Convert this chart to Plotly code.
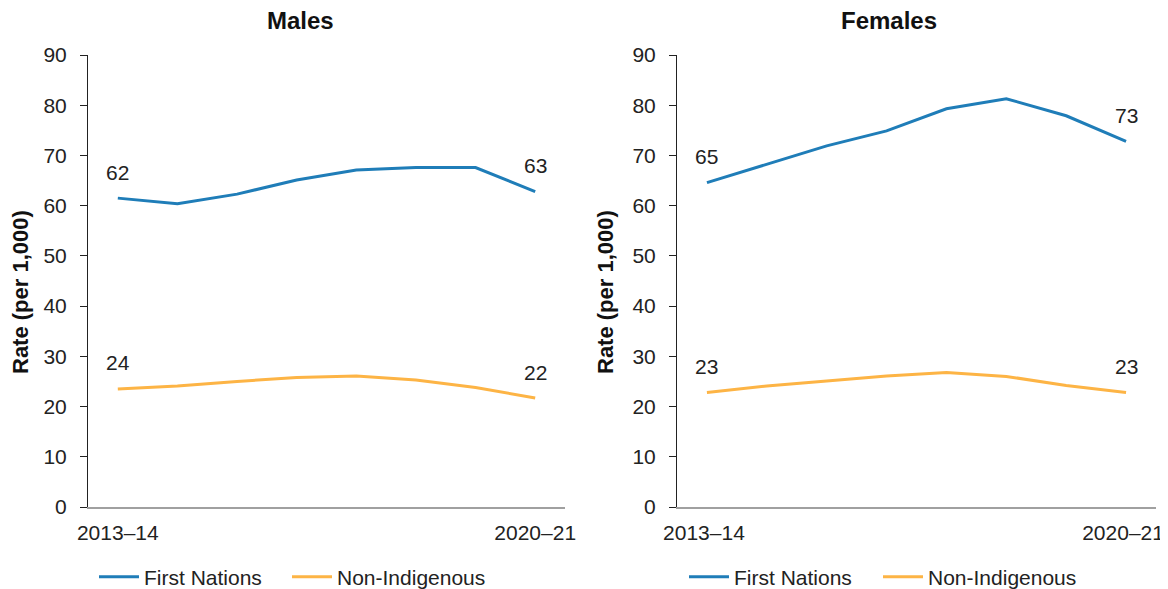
import plotly.graph_objects as go

categories = ["2013–14", "2014–15", "2015–16", "2016–17", "2017–18", "2018–19", "2019–20", "2020–21"]
males_first_nations = [61.5, 60.4, 62.3, 65.1, 67.1, 67.6, 67.6, 62.8]
males_non_indigenous = [23.5, 24.1, 25.0, 25.8, 26.1, 25.3, 23.8, 21.7]
females_first_nations = [64.6, 68.2, 71.9, 74.9, 79.3, 81.3, 77.9, 72.8]
females_non_indigenous = [22.8, 24.1, 25.1, 26.1, 26.8, 26.0, 24.2, 22.8]
label_first_nations = ["62", "63"]
label_non_indigenous_m = ["24", "22"]
label_females_fn = ["65", "73"]
label_females_ni = ["23", "23"]

BLUE = "#1F7DB8"
ORANGE = "#FDB445"
FONT = "Arial, Liberation Sans, sans-serif"
TXT = "#222222"
OFF = 8  # page body margin
W, H = 1168 - OFF, 589 - OFF

def fx(px):
    return (px - OFF) / W

def fy(py):
    return 1 - (py - OFF) / H

fig = go.Figure()

def add_panel(fn, ni, xa, ya, leg_fn, leg_ni):
    fig.add_trace(go.Scatter(x=categories, y=fn, mode="lines", name="First Nations",
                             line=dict(color=BLUE, width=3), xaxis=xa, yaxis=ya,
                             legend=leg_fn, hoverinfo="skip"))
    fig.add_trace(go.Scatter(x=categories, y=ni, mode="lines", name="Non-Indigenous",
                             line=dict(color=ORANGE, width=3), xaxis=xa, yaxis=ya,
                             legend=leg_ni, hoverinfo="skip"))

add_panel(males_first_nations, males_non_indigenous, "x", "y", "legend", "legend2")
add_panel(females_first_nations, females_non_indigenous, "x2", "y2", "legend3", "legend4")

annotations = []
def add_labels(series, labels, xa, ya):
    for idx, lab in zip([0, len(categories) - 1], labels):
        annotations.append(dict(x=categories[idx], y=series[idx], xref=xa, yref=ya,
                                text=lab, showarrow=False, yshift=26,
                                xanchor="center", yanchor="middle",
                                font=dict(family=FONT, size=21, color=TXT)))

add_labels(males_first_nations, label_first_nations, "x", "y")
add_labels(males_non_indigenous, label_non_indigenous_m, "x", "y")
add_labels(females_first_nations, label_females_fn, "x2", "y2")
add_labels(females_non_indigenous, label_females_ni, "x2", "y2")

for txt, px, py in [("Males", 300, 21), ("Females", 889, 20)]:
    annotations.append(dict(x=fx(px), y=fy(py), xref="paper", yref="paper", text=f"<b>{txt}</b>",
                            xanchor="center", yanchor="middle",
                            showarrow=False, font=dict(family=FONT, size=24, color="#111")))
for px in [20, 605]:
    annotations.append(dict(x=fx(px), y=fy(292), xref="paper", yref="paper",
                            text="<b>Rate (per 1,000)</b>", textangle=-90, showarrow=False,
                            xanchor="center", yanchor="middle",
                            font=dict(family=FONT, size=22, color="#111")))

yax = dict(range=[0, 90], dtick=10, showline=True, linecolor="#222", linewidth=1,
           ticks="outside", ticklen=7, tickcolor="#222", showgrid=False, zeroline=False,
           automargin=False, ticklabelstandoff=9,
           tickfont=dict(family=FONT, size=21, color=TXT))
xax = dict(range=[-0.5, 7.5], showline=True, linecolor="#A0A0A0", linewidth=1.5, ticks="",
           tickvals=[categories[0], categories[-1]], ticktext=[categories[0], categories[-1]],
           showgrid=False, zeroline=False, ticklabelstandoff=6, automargin=False,
           tickfont=dict(family=FONT, size=21, color=TXT))

leg = dict(orientation="h", yanchor="middle", xanchor="left", y=fy(577),
           font=dict(family=FONT, size=21, color=TXT), bgcolor="rgba(0,0,0,0)",
           itemwidth=40, tracegroupgap=0)

fig.update_layout(
    width=W, height=H,
    margin=dict(l=0, r=0, t=0, b=0, autoexpand=False),
    paper_bgcolor="white", plot_bgcolor="white",
    xaxis=dict(domain=[fx(88), fx(565)], anchor="y", **xax),
    yaxis=dict(domain=[fy(507), fy(55)], anchor="x", **yax),
    xaxis2=dict(domain=[fx(677), fx(1156)], anchor="y2", ticklabelshift=-3, **xax),
    yaxis2=dict(domain=[fy(507), fy(55)], anchor="x2", **yax),
    legend=dict(x=fx(100 - 6), **leg),
    legend2=dict(x=fx(293 - 6), **leg),
    legend3=dict(x=fx(690 - 6), **leg),
    legend4=dict(x=fx(884 - 6), **leg),
    annotations=annotations,
    showlegend=True,
)

fig.write_html("out.html")
